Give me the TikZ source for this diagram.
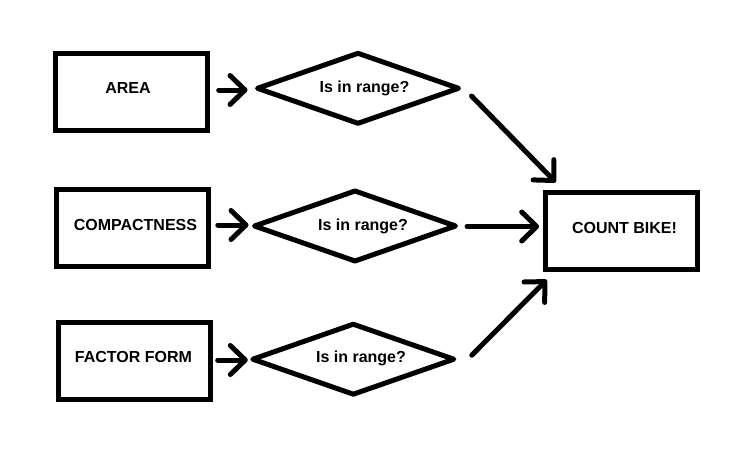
\documentclass[tikz,border=0pt]{standalone}
\usepackage{fontspec}
\setmainfont{Liberation Sans}
\usetikzlibrary{shapes.geometric,arrows.meta,calc}
\begin{document}
\begin{tikzpicture}[x=1pt,y=-1pt,
  box/.style={draw,line width=5pt,rectangle,minimum width=152pt,minimum height=77pt,inner sep=0pt,outer sep=0pt},
  dia/.style={draw,line width=5pt,diamond,minimum width=201pt,minimum height=70pt,inner sep=0pt,outer sep=0pt,line join=round},
  txt/.style={font=\bfseries\fontsize{16}{19}\selectfont,inner sep=0pt,anchor=base},
  arr/.style={line width=5pt,line cap=round,-{Straight Barb[length=15pt,width=29pt,line cap=round,line join=round]}}]
\useasboundingbox (0,0) rectangle (744,464);
\fill[white] (0,0) rectangle (744,464);
% boxes
\node[box] (area) at (131.7,92.2) {};
\node[txt] (tarea) at (128,93) {AREA};
\node[box] (comp) at (132.8,228.3) {};
\node[txt] (tcomp) at (135.4,230.7) {COMPACTNESS};
\node[box] (ff) at (134.7,360.5) {};
\node[txt] (tff) at (133.5,362.7) {FACTOR FORM};
\node[box] (cb) at (621.7,231.3) {};
\node[txt] (tcb) at (624.5,233) {COUNT BIKE!};
% diamonds
\node[dia] (d1) at (358,88.3) {};
\node[txt] (td1) at (364.5,92.7) {Is in range?};
\node[dia] (d2) at (355,226) {};
\node[txt] (td2) at (363,230.7) {Is in range?};
\node[dia] (d3) at (353.3,359.2) {};
\node[txt] (td3) at (361,362.7) {Is in range?};
% arrows
\draw[arr] ($(area.east |- d1.west)+(11,1.7)$) -- ($(d1.west)+(-10,1.7)$);
\draw[arr] ($(comp.east |- d2.west)+(9,-1)$) -- ($(d2.west)+(-6,-1)$);
\draw[arr] ($(ff.east |- d3.west)+(7,0.8)$) -- ($(d3.west)+(-5,0.8)$);
\draw[arr] ($(d1.east)+(13,7.7)$) -- ($(cb.north west)+(10,-10.5)$);
\draw[arr] ($(d2.east)+(11.5,0.5)$) -- ($(cb.west |- d2.east)+(-6.5,0.5)$);
\draw[arr] ($(d3.east)+(18,-4)$) -- ($(cb.south west)+(1,10)$);
\end{tikzpicture}
\end{document}
